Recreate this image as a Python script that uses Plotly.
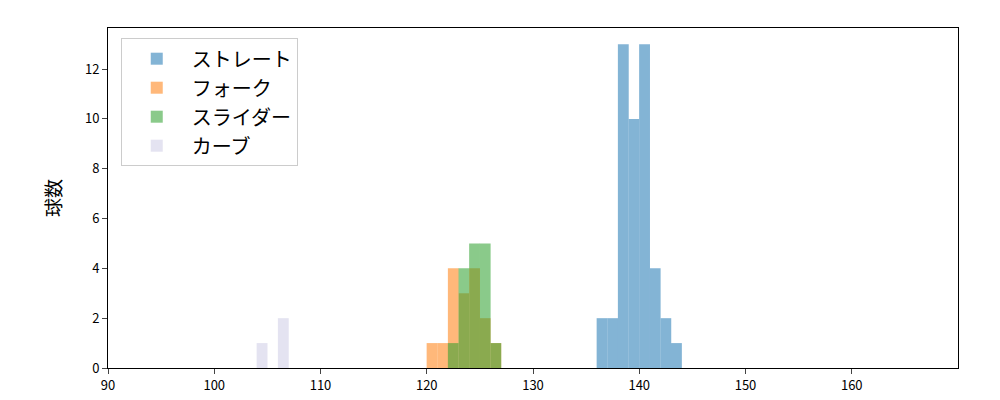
import plotly.graph_objects as go

# bin left edges and counts (bin width 1 km/h)
straight_x = [136, 137, 138, 139, 140, 141, 142, 143]
straight_y = [2, 2, 13, 10, 13, 4, 2, 1]
fork_x = [120, 121, 122, 123, 124, 125, 126]
fork_y = [1, 1, 4, 3, 4, 2, 1]
slider_x = [122, 123, 124, 125, 126]
slider_y = [1, 4, 5, 5, 1]
curve_x = [104, 106]
curve_y = [1, 2]

series = [
    ('ストレート', straight_x, straight_y, '#1f77b4'),
    ('フォーク', fork_x, fork_y, '#ff7f0e'),
    ('スライダー', slider_x, slider_y, '#2ca02c'),
    ('カーブ', curve_x, curve_y, '#cfcde6'),
]

fig = go.Figure()
for name, xs, ys, color in series:
    fig.add_trace(go.Bar(
        x=[v + 0.5 for v in xs], y=ys, width=1.02, name=name,
        marker=dict(color=color, line=dict(width=0)), opacity=0.55,
    ))

fig.update_layout(
    barmode='overlay', width=1000, height=400,
    margin=dict(l=100, r=50, t=20, b=40, autoexpand=False),
    plot_bgcolor='white', paper_bgcolor='white',
    font=dict(family='Noto Sans CJK JP', size=13, color='black'),
    legend=dict(x=0.015, y=0.97, xanchor='left', yanchor='top',
                font=dict(size=20), bordercolor='#cccccc', borderwidth=1,
                bgcolor='rgba(255,255,255,0.8)', itemwidth=60,
                tracegroupgap=2),
    xaxis=dict(range=[90, 170], tickvals=list(range(90, 170, 10)),
               showline=True, mirror=True, linecolor='black', ticks='outside',
               showgrid=False, zeroline=False, automargin=False),
    yaxis=dict(range=[0, 13.65], tickvals=list(range(0, 14, 2)),
               showline=True, mirror=True, linecolor='black', ticks='outside',
               showgrid=False, zeroline=False, automargin=False,
               title=dict(text='球数', font=dict(size=19), standoff=18)),
)
fig.write_html("out.html")
